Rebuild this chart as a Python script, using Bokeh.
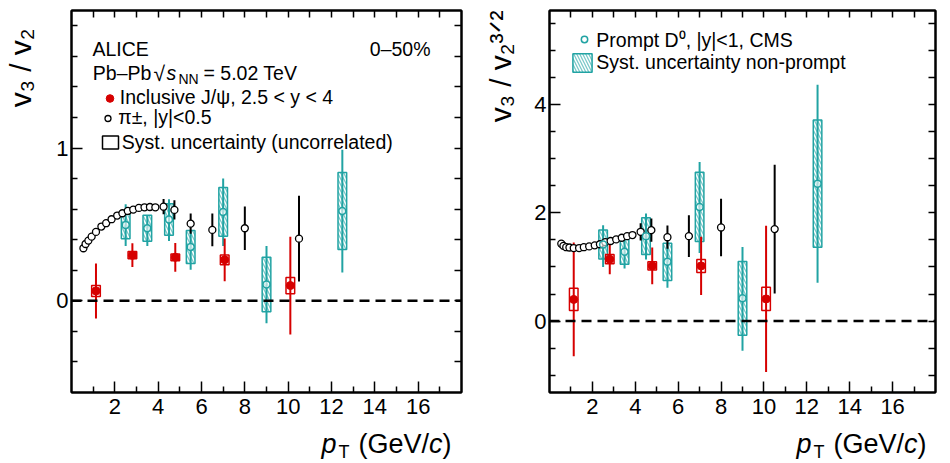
from bokeh.plotting import figure
from bokeh.layouts import row, column
from bokeh.models import (FixedTicker, LinearAxis, Label, Legend, LegendItem, Span, Range1d,
                          Title)
from bokeh.embed import file_html
from bokeh.resources import INLINE

FONT = "Liberation Sans"
RED = "#d60000"
TEAL = "#21a3a3"
HATCH = "#7cc9c9"

# charged pions |y|<0.5
pion_pt = [0.55, 0.65, 0.78, 0.93, 1.13, 1.38, 1.60, 1.85, 2.11, 2.35, 2.60,
           2.85, 3.11, 3.37, 3.62, 3.87, 4.25, 4.75, 5.5, 6.5, 8.0, 10.5]
pion_r2 = [0.344, 0.372, 0.394, 0.420, 0.451, 0.486, 0.508, 0.534, 0.558, 0.573, 0.588,
           0.597, 0.608, 0.612, 0.614, 0.612, 0.616, 0.595, 0.505, 0.464, 0.475, 0.407]
pion_r2_err = [0.005, 0.005, 0.005, 0.005, 0.005, 0.005, 0.005, 0.005, 0.005, 0.005, 0.005,
               0.005, 0.005, 0.005, 0.005, 0.005, 0.050, 0.063, 0.066, 0.107, 0.142, 0.281]
pion_r32 = [1.43, 1.39, 1.365, 1.36, 1.35, 1.35, 1.365, 1.38, 1.40, 1.42, 1.46,
            1.48, 1.51, 1.54, 1.57, 1.59, 1.65, 1.68, 1.55, 1.57, 1.73, 1.70]
pion_r32_err = [0.02, 0.02, 0.02, 0.02, 0.02, 0.02, 0.02, 0.02, 0.02, 0.02, 0.02,
                0.02, 0.02, 0.02, 0.02, 0.02, 0.16, 0.215, 0.215, 0.385, 0.53, 1.19]

# inclusive J/psi 2.5<y<4
jpsi_pt = [1.13, 2.81, 4.79, 7.07, 10.1]
jpsi_r2 = [0.065, 0.299, 0.285, 0.268, 0.100]
jpsi_r2_stat = [0.180, 0.078, 0.094, 0.140, 0.320]
jpsi_r2_syst = [0.036, 0.023, 0.022, 0.032, 0.053]
jpsi_r32 = [0.40, 1.144, 1.02, 1.02, 0.41]
jpsi_r32_stat = [1.05, 0.28, 0.34, 0.54, 1.35]
jpsi_r32_syst = [0.205, 0.085, 0.075, 0.12, 0.215]

# prompt D0 |y|<1 CMS
d0_pt = [2.5, 3.5, 4.5, 5.5, 7.0, 9.0, 12.5]
d0_r2 = [0.497, 0.475, 0.532, 0.353, 0.582, 0.107, 0.588]
d0_r2_hi = [0.135, 0.087, 0.133, 0.105, 0.218, 0.252, 0.400]
d0_r2_lo = [0.138, 0.116, 0.140, 0.150, 0.223, 0.253, 0.403]
d0_r2_syst = [0.090, 0.085, 0.103, 0.108, 0.160, 0.178, 0.252]
d0_r32 = [1.415, 1.28, 1.57, 1.095, 2.11, 0.42, 2.54]
d0_r32_hi = [0.355, 0.275, 0.42, 0.335, 0.83, 0.95, 1.83]
d0_r32_lo = [0.415, 0.31, 0.43, 0.48, 0.85, 0.97, 1.83]
d0_r32_syst = [0.27, 0.23, 0.34, 0.345, 0.64, 0.68, 1.175]

syst_half_width = 0.2

x_major = [2, 4, 6, 8, 10, 12, 14, 16]
x_minor = [1, 3, 5, 7, 9, 11, 13, 15, 17]
x_all = [1, 2, 3, 4, 5, 6, 7, 8, 9, 10, 11, 12, 13, 14, 15, 16, 17]


def style_axis(ax, major, minor, standoff):
    ax.ticker = FixedTicker(ticks=major, minor_ticks=minor)
    ax.major_tick_in = 11
    ax.major_tick_out = 0
    ax.minor_tick_in = 6
    ax.minor_tick_out = 0
    ax.axis_line_width = 2
    ax.major_tick_line_width = 1.5
    ax.minor_tick_line_width = 1.5
    ax.major_label_text_font = FONT
    ax.major_label_text_color = "black"
    ax.major_label_text_font_size = "22px"
    ax.major_label_standoff = standoff


def mirror_axis(ticks):
    # ticks only, no labels (drawn as minor ticks)
    ax = LinearAxis(ticker=FixedTicker(ticks=[], minor_ticks=ticks))
    ax.minor_tick_in = 7
    ax.minor_tick_out = 0
    ax.minor_tick_line_width = 1.5
    ax.axis_line_width = 2
    return ax


def make_figure(yr, y_major, y_minor, border_left, border_right, frame_w):
    p = figure(x_range=Range1d(0, 18), y_range=Range1d(*yr),
               frame_width=frame_w, frame_height=382,
               min_border_left=border_left, min_border_right=border_right,
               min_border_top=10, min_border_bottom=34,
               output_backend="svg", toolbar_location=None)
    p.xgrid.visible = False
    p.ygrid.visible = False
    p.outline_line_color = "black"
    p.outline_line_width = 2
    style_axis(p.xaxis[0], x_major, x_minor, 6)
    style_axis(p.yaxis[0], y_major, y_minor, 3)
    p.add_layout(mirror_axis(x_all), "above")
    p.add_layout(mirror_axis(y_major + y_minor), "right")
    p.add_layout(Span(location=0, dimension="width", line_color="black",
                      line_width=2.5, line_dash="10 6"))
    return p


def blank_figure(w, h, left=0, right=0, top=0, bottom=0):
    # empty canvas that only carries an axis title
    b = figure(width=w, height=h, x_range=Range1d(0, 1), y_range=Range1d(0, 1),
               min_border_left=left, min_border_right=right,
               min_border_top=top, min_border_bottom=bottom,
               x_axis_location=None, y_axis_location=None,
               output_backend="svg", toolbar_location=None)
    b.xgrid.visible = False
    b.ygrid.visible = False
    b.outline_line_color = None
    return b


def y_title(w, s, standoff, offset):
    b = blank_figure(w, 426, top=10, bottom=34)
    b.add_layout(Title(text=s, align="right", offset=offset, standoff=standoff,
                       text_font=FONT, text_font_size="30px", text_font_style="normal",
                       text_color="black"), "left")
    return b


def text(p, sx, sy, s, size="19.5px", style="normal", align="left"):
    p.add_layout(Label(x=sx, y=sy, x_units="screen", y_units="screen", text=s,
                       text_font=FONT, text_font_size=size, text_font_style=style,
                       text_color="black", text_align=align, text_baseline="alphabetic"))


def x_title(w, left, right, dx):
    b = blank_figure(w, 36, left=left, right=right)
    text(b, 250 + dx, 19, "p", "27px", "italic")
    text(b, 267 + dx, 11, "T", "18px")
    text(b, 287 + dx, 19, "(GeV/", "27px")
    text(b, 357.5 + dx, 19, "c", "27px", "italic")
    text(b, 371 + dx, 19, ")", "27px")
    return b


def single_legend(p, renderer, label, loc, gw, gh, standoff):
    lg = Legend(items=[LegendItem(label=label, renderers=[renderer])], location=loc,
                glyph_width=gw, glyph_height=gh, label_standoff=standoff,
                label_height=22, label_text_font=FONT, label_text_font_size="19.5px",
                label_text_color="black", padding=0, margin=0, spacing=0,
                border_line_alpha=0, background_fill_alpha=0)
    p.add_layout(lg)


def draw_data(p, pion_v, pion_e, jpsi_v, jpsi_stat, jpsi_syst, d0_v, d0_hi, d0_lo, d0_syst):
    d0_box = p.quad(left=[x - syst_half_width for x in d0_pt], right=[x + syst_half_width for x in d0_pt],
                    bottom=[v - s for v, s in zip(d0_v, d0_syst)], top=[v + s for v, s in zip(d0_v, d0_syst)],
                    fill_color=None, line_color=TEAL, line_width=1.5,
                    hatch_pattern="left_diagonal_line", hatch_color=HATCH, hatch_scale=6, hatch_weight=1.3)
    p.quad(left=[x - syst_half_width for x in jpsi_pt], right=[x + syst_half_width for x in jpsi_pt],
           bottom=[v - s for v, s in zip(jpsi_v, jpsi_syst)], top=[v + s for v, s in zip(jpsi_v, jpsi_syst)],
           fill_color=None, line_color=RED, line_width=1.5)
    p.segment(x0=d0_pt, x1=d0_pt, y0=[v - e for v, e in zip(d0_v, d0_lo)],
              y1=[v + e for v, e in zip(d0_v, d0_hi)], line_color=TEAL, line_width=2)
    p.segment(x0=jpsi_pt, x1=jpsi_pt, y0=[v - e for v, e in zip(jpsi_v, jpsi_stat)],
              y1=[v + e for v, e in zip(jpsi_v, jpsi_stat)], line_color=RED, line_width=2)
    p.segment(x0=pion_pt, x1=pion_pt, y0=[v - e for v, e in zip(pion_v, pion_e)],
              y1=[v + e for v, e in zip(pion_v, pion_e)], line_color="black", line_width=2)
    pion = p.scatter(pion_pt, pion_v, marker="circle", size=7, line_color="black",
                     line_width=1.3, fill_color="white")
    d0 = p.scatter(d0_pt, d0_v, marker="circle", size=7, line_color=TEAL, line_width=1.5,
                   fill_color="white", fill_alpha=0.6)
    jpsi = p.scatter(jpsi_pt, jpsi_v, marker="circle", size=8, line_color=RED, fill_color=RED)
    return pion, d0, jpsi, d0_box


# ---- left panel: v3 / v2
p1 = make_figure((-0.6, 1.9), [0, 1],
                 [-0.4, -0.2, 0.2, 0.4, 0.6, 0.8, 1.2, 1.4, 1.6, 1.8], 23, 14, 390)
pion1, d01, jpsi1, box1 = draw_data(p1, pion_r2, pion_r2_err, jpsi_r2, jpsi_r2_stat, jpsi_r2_syst,
                                     d0_r2, d0_r2_hi, d0_r2_lo, d0_r2_syst)
nan = float("nan")
syst_key = p1.quad(left=[nan], right=[nan], top=[nan], bottom=[nan], fill_color=None,
                   line_color="black", line_width=1.5)

text(p1, 21, 344, "ALICE")
text(p1, 359, 344, "0–50%", align="right")
text(p1, 21.3, 319.3, "Pb–Pb")
text(p1, 82, 319.3, "√", "21px")
text(p1, 95, 319.3, "s", style="italic")
text(p1, 107, 314, "NN", "14px")
text(p1, 132, 319.3, "= 5.02 TeV")

single_legend(p1, jpsi1, "Inclusive J/ψ, 2.5 < y < 4", (28.8, 282.7), 19, 22, 1)
single_legend(p1, pion1, "π±, |y|<0.5", (29.2, 262.7), 15, 22, 3)
single_legend(p1, syst_key, "Syst. uncertainty (uncorrelated)", (28.8, 238.3), 20, 16, 2)

yt1 = y_title(48, "v₃ / v₂", 3, 18)
xt1 = x_title(475, 71, 14, 0)

# ---- right panel: v3 / v2^{3/2}
p2 = make_figure((-1.32, 5.74), [0, 2, 4],
                 [-1, -0.5, 0.5, 1, 1.5, 2.5, 3, 3.5, 4.5, 5, 5.5], 22, 5, 386)
pion2, d02, jpsi2, box2 = draw_data(p2, pion_r32, pion_r32_err, jpsi_r32, jpsi_r32_stat, jpsi_r32_syst,
                                     d0_r32, d0_r32_hi, d0_r32_lo, d0_r32_syst)

single_legend(p2, d02, "Prompt D⁰, |y|<1, CMS", (27.3, 339.3), 16, 22, 4)
single_legend(p2, box2, "Syst. uncertainty non-prompt", (21.3, 318), 24, 23, 2)

yt2 = y_title(52, "v₃ / v₂³ᐟ²", 12, 0)
xt2 = x_title(465, 74, 5, -3)

layout = row(column(row(yt1, p1), xt1), column(row(yt2, p2), xt2))
open("out.html", "w").write(file_html(layout, INLINE))
